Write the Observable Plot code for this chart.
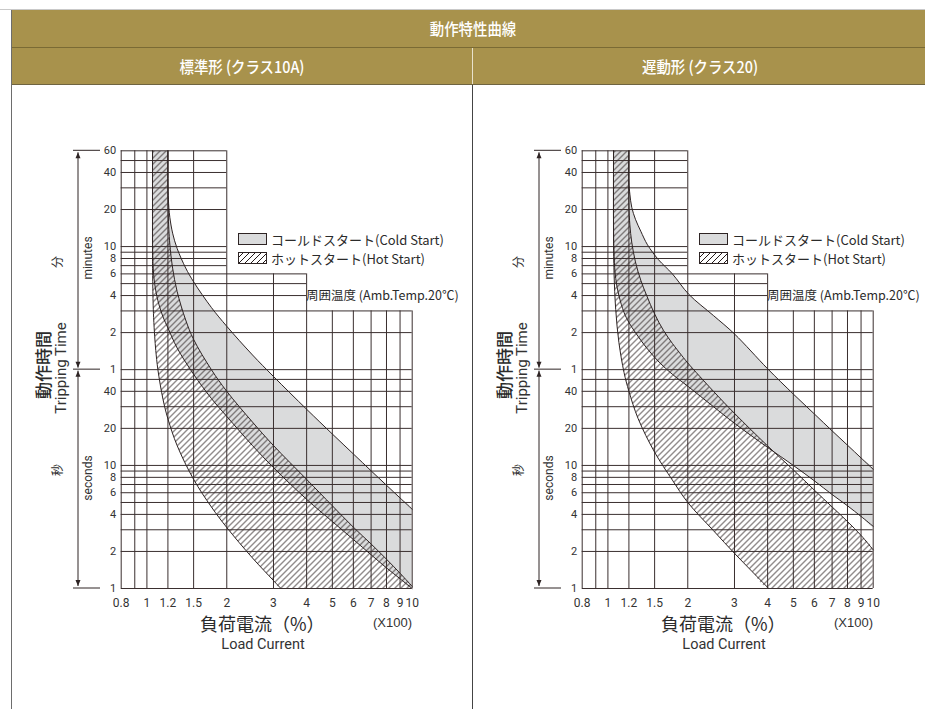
<!DOCTYPE html>
<html lang="ja"><head><meta charset="utf-8">
<script src="https://cdn.jsdelivr.net/npm/d3@7"></script>
<script src="https://cdn.jsdelivr.net/npm/@observablehq/plot@0.6"></script>
<style>
html,body{margin:0;padding:0;background:#fff;}
#page{position:relative;width:925px;height:709px;overflow:hidden;background:#fff;color:#2b2b2b;font-family:"Noto Sans CJK JP","Noto Sans",sans-serif;}
.t{position:absolute;white-space:nowrap;line-height:1;}
.box{position:absolute;}
</style></head>
<body><div id="page"></div>
<script>
// ---------------- data ----------------
const headerTitle = "動作特性曲線";
const panelTitles = ["標準形 (クラス10A)", "遅動形 (クラス20)"];
const legendCold = "コールドスタート(Cold Start)";
const legendHot = "ホットスタート(Hot Start)";
const ambientText = "周囲温度 (Amb.Temp.20℃)";
const xTitleJP = "負荷電流（%）";
const xTitleEN = "Load Current";
const xMultiplier = "(X100)";
const yTitleJP = "動作時間";
const yTitleEN = "Tripping Time";
const minutesJP = "分", minutesEN = "minutes";
const secondsJP = "秒", secondsEN = "seconds";

const X_DOMAIN = [0.8, 10];          // load current (x100 %)
const T_DOMAIN = [1, 3600];          // tripping time in seconds
const xTicks = [0.8, 1, 1.2, 1.5, 2, 3, 4, 5, 6, 7, 8, 9, 10];
const yTicks = [1, 2, 4, 6, 8, 10, 20, 40, 60, 120, 240, 360, 480, 600, 1200, 2400, 3600];
const yTickLabels = ["1","2","4","6","8","10","20","40","1","2","4","6","8","10","20","40","60"];

// grid (staircase-shaped chart paper)
const gridXFull = [0.8, 0.9, 1, 1.2, 1.5, 2];   // verticals up to 60 min
const gridXMid = [3, 4];                        // verticals up to 6 min
const gridXLow = [5, 6, 7, 8, 9, 10];           // verticals up to 3 min
const gridXMidTop = 360, gridXLowTop = 180;
const gridTTop = [3600, 3000, 2400, 1800, 1200, 600, 540, 480, 420]; // to x=2
const gridTMid = [360, 300, 240];                                   // to x=4
const gridTLow = [180, 120, 60, 50, 40, 30, 20, 10, 9, 8, 7, 6, 5, 4, 3, 2, 1]; // to x=10
const gridTTopRight = 2, gridTMidRight = 4;

// class 10A curves [current multiple, seconds]
const hotLowerL = [[1.05,3600],[1.05,420],[1.051,350],[1.055,214],[1.06,159],[1.07,111],[1.08,86],[1.1,60],[1.15,34.4],[1.2,23.9],[1.3,14.5],[1.5,7.7],[1.75,4.6],[2,3.13],[2.5,1.77],[3,1.16],[3.2,1]];
const coldLowerL = [[1.05,3600],[1.05,900],[1.051,564],[1.055,420],[1.06,358],[1.07,297],[1.1,218],[1.15,161],[1.2,131],[1.3,90],[1.5,55],[1.75,35],[2,25],[2.5,14.5],[3,9.6],[4,5.3],[5,3.5],[6,2.5],[7,1.88],[8,1.47],[9,1.2],[10,1]];
const hotUpperL = [[1.2,3600],[1.2,1800],[1.201,1500],[1.205,1022],[1.21,821],[1.22,629],[1.25,401],[1.3,259],[1.4,152],[1.5,105.5],[1.75,60],[2,40],[2.5,22.5],[3,14.5],[4,7.7],[5,4.7],[6,3.15],[7,2.3],[8,1.73],[9,1.33],[10,1.04]];
const coldUpperL = [[1.2,3600],[1.2,2000],[1.205,1453],[1.21,1244],[1.22,1038],[1.25,771],[1.3,579],[1.4,402],[1.5,310],[1.75,192],[2,135],[2.5,79],[3,52.8],[4,28.6],[5,18],[6,12.4],[7,9.04],[8,6.9],[9,5.44],[10,4.4]];

// class 20 curves
const hotLowerR = [[1.05,3600],[1.05,700],[1.051,587],[1.055,356],[1.07,185],[1.1,100],[1.15,57],[1.2,40],[1.3,24],[1.5,12.8],[1.75,7.6],[2,5],[2.5,2.95],[3,1.93],[3.5,1.37],[4.04,1]];
const coldLowerR = [[1.05,3600],[1.05,900],[1.055,500],[1.07,330],[1.1,240],[1.15,175],[1.2,145],[1.27,120],[1.4,90],[1.56,69],[1.75,55],[2,44],[2.5,30],[3,22],[4,14],[5,10],[6,7.5],[7,5.8],[8,4.7],[9,3.85],[10,3.2]];
const hotUpperR = [[1.2,3600],[1.2,1300],[1.21,900],[1.23,650],[1.27,450],[1.33,320],[1.4,240],[1.5,170],[1.62,125],[1.75,98],[1.9,78],[2,68],[2.5,40],[3,26.5],[4,14.4],[5,9.2],[6,6.3],[7,4.6],[8,3.5],[9,2.7],[10,2.06]];
const coldUpperR = [[1.2,3600],[1.2,2000],[1.21,1600],[1.23,1250],[1.27,1000],[1.33,800],[1.41,620],[1.55,470],[1.75,360],[2.02,245],[2.5,165],[3,117],[4,61],[5,38],[6,26.2],[7,19.1],[8,14.6],[9,11.5],[10,9.3]];

// ---------------- style ----------------
const INK = "#2e2424";
const GRID = "#3a2f2f";
const GREY = "#dadbdc";
const BAND = "#a8924c";
const NARROW = '"Liberation Sans Narrow","Arial Narrow",Roboto,sans-serif';
const JP = '"Noto Sans CJK JP",sans-serif';
const NS = "http://www.w3.org/2000/svg";

const page = document.getElementById("page");

function div(cls, css, text) {
  const d = document.createElement("div");
  d.className = cls;
  Object.assign(d.style, css);
  if (text != null) d.textContent = text;
  page.appendChild(d);
  return d;
}
function textAt(txt, cx, cy, css = {}, rotate = false, anchor = "middle") {
  const tx = anchor === "start" ? "0" : "-50%";
  const tf = `translate(${tx},-50%)` + (rotate ? " rotate(-90deg)" : "") + (css.sx ? ` scaleX(${css.sx})` : "");
  const c = Object.assign({left: cx + "px", top: cy + "px", transform: tf}, css);
  delete c.sx;
  return div("t", c, txt);
}
function el(name, attrs) {
  const e = document.createElementNS(NS, name);
  for (const k in attrs) e.setAttribute(k, attrs[k]);
  return e;
}

// ---------------- header ----------------
div("box", {left: "0px", top: "9px", width: "925px", height: "1px", background: "#c9c9c9"});
div("box", {left: "11px", top: "10px", width: "914px", height: "37px", background: BAND});
div("box", {left: "11px", top: "47px", width: "914px", height: "1px", background: "#7a6a34"});
div("box", {left: "11px", top: "48px", width: "914px", height: "36px", background: BAND});
div("box", {left: "11px", top: "84px", width: "914px", height: "1px", background: "#6f6440"});
div("box", {left: "472px", top: "48px", width: "1px", height: "36px", background: "#e9e2cc"});
div("box", {left: "11px", top: "10px", width: "1px", height: "699px", background: "#6d6d6d"});
div("box", {left: "472px", top: "85px", width: "1px", height: "624px", background: "#444"});
const hdrCss = {color: "#fff", fontFamily: JP, fontWeight: "500", fontSize: "16px", sx: 0.9};
textAt(headerTitle, 473, 28, Object.assign({}, hdrCss));
textAt(panelTitles[0], 241.5, 66, Object.assign({}, hdrCss));
textAt(panelTitles[1], 700, 66, Object.assign({}, hdrCss));

// ---------------- panels ----------------
function panel(idx, offset, hotLower, coldLower, hotUpper, coldUpper) {
  const hotRegion = [...hotLower, [X_DOMAIN[1], T_DOMAIN[0]], ...hotUpper.slice().reverse()];
  const coldRegion = [...coldLower, ...coldUpper.slice().reverse()];
  const hatchId = "hatch" + idx;
  const px = d => d[0], py = d => d[1];
  const curve = "catmull-rom";
  const gridOpt = {stroke: GRID, strokeWidth: 1};
  const chart = Plot.plot({
    width: 472, height: 560,
    marginLeft: 120.7, marginRight: 60.3, marginTop: 50.3, marginBottom: 72,
    x: {type: "log", domain: X_DOMAIN, axis: null},
    y: {type: "log", domain: T_DOMAIN, axis: null},
    style: {background: "transparent", overflow: "visible"},
    marks: [
      Plot.line(coldRegion, {x: px, y: py, fill: GREY, stroke: "none", curve, clip: true}),
      Plot.line(hotRegion, {x: px, y: py, fill: `url(#${hatchId})`, stroke: "none", curve, clip: true}),
      Plot.ruleX(gridXFull, {x: d => d, y1: T_DOMAIN[0], y2: T_DOMAIN[1], ...gridOpt}),
      Plot.ruleX(gridXMid, {x: d => d, y1: T_DOMAIN[0], y2: gridXMidTop, ...gridOpt}),
      Plot.ruleX(gridXLow, {x: d => d, y1: T_DOMAIN[0], y2: gridXLowTop, ...gridOpt}),
      Plot.ruleY(gridTTop, {y: d => d, x1: X_DOMAIN[0], x2: gridTTopRight, ...gridOpt}),
      Plot.ruleY(gridTMid, {y: d => d, x1: X_DOMAIN[0], x2: gridTMidRight, ...gridOpt}),
      Plot.ruleY(gridTLow, {y: d => d, x1: X_DOMAIN[0], x2: X_DOMAIN[1], ...gridOpt}),
      ...[hotLower, coldLower, hotUpper, coldUpper].map(c =>
        Plot.line(c, {x: px, y: py, stroke: INK, strokeWidth: 1, curve})),
      Plot.text(xTicks, {x: d => d, y: T_DOMAIN[0], dy: 15, text: d => String(d),
        fontSize: 12, fontFamily: NARROW, fill: "#333"}),
      Plot.text(yTicks, {x: X_DOMAIN[0], y: d => d, dx: -5, textAnchor: "end",
        text: (d, i) => yTickLabels[i], fontSize: 11, fontFamily: NARROW, fill: "#333"})
    ]
  });
  const holder = div("box", {left: offset + "px", top: "100px", width: "472px", height: "560px"});
  holder.appendChild(chart);
  const svg = chart.tagName.toLowerCase() === "svg" ? chart : chart.querySelector("svg");

  // hatch pattern
  const defs = el("defs", {});
  const pat = el("pattern", {id: hatchId, patternUnits: "userSpaceOnUse", width: 6, height: 6});
  pat.appendChild(el("path", {d: "M-1.5,1.5 L1.5,-1.5 M0,6 L6,0 M4.5,7.5 L7.5,4.5", stroke: "#241a1a", "stroke-width": 1, fill: "none"}));
  defs.appendChild(pat);
  svg.insertBefore(defs, svg.firstChild);

  // side axis with arrows
  const sy = v => chart.scale("y").apply(v);
  const g = el("g", {});
  const ax = 78;
  const yt = sy(T_DOMAIN[1]), ym = sy(60), yb = sy(T_DOMAIN[0]);
  for (const v of [yt, ym, yb]) g.appendChild(el("line", {x1: 73, x2: 100, y1: v, y2: v, stroke: INK, "stroke-width": 1}));
  for (const [a, b] of [[yt + 2, ym - 1.5], [ym + 1.5, yb - 2]]) {
    g.appendChild(el("line", {x1: ax, x2: ax, y1: a, y2: b, stroke: INK, "stroke-width": 1}));
    g.appendChild(el("path", {d: `M${ax},${a} L${ax - 2.5},${a + 6} L${ax + 2.5},${a + 6} Z`, fill: INK}));
    g.appendChild(el("path", {d: `M${ax},${b} L${ax - 2.5},${b - 6} L${ax + 2.5},${b - 6} Z`, fill: INK}));
  }
  svg.appendChild(g);

  // legend swatches
  const lg = el("g", {});
  lg.appendChild(el("rect", {x: 238.5, y: 133.5, width: 28, height: 11, fill: GREY, stroke: INK, "stroke-width": 1}));
  lg.appendChild(el("rect", {x: 238.5, y: 152.5, width: 28, height: 11, fill: `url(#${hatchId})`, stroke: INK, "stroke-width": 1}));
  svg.appendChild(lg);

  // texts (HTML)
  const o = offset;
  const small = {fontFamily: JP, fontSize: "13px", color: "#2b2b2b"};
  textAt(legendCold, o + 271, 239, Object.assign({}, small), false, "start");
  textAt(legendHot, o + 271, 258, Object.assign({}, small), false, "start");
  textAt(ambientText, o + 306, 295, Object.assign({}, small, {fontSize: "12.5px"}), false, "start");
  textAt(xTitleJP, o + 200, 623, {fontFamily: JP, fontSize: "18px", color: "#2b2b2b"}, false, "start");
  textAt(xMultiplier, o + 373, 622, {fontFamily: "Liberation Sans,Arial,sans-serif", fontSize: "13px", color: "#333"}, false, "start");
  textAt(xTitleEN, o + 263, 645, {fontFamily: NARROW, fontSize: "14.5px", color: "#333"});
  textAt(yTitleJP, o + 42, 365, {fontFamily: JP, fontSize: "17px", fontWeight: "500", color: "#2b2b2b"}, true);
  textAt(yTitleEN, o + 61, 368, {fontFamily: NARROW, fontSize: "15px", color: "#333"}, true);
  textAt(minutesJP, o + 57, 262, {fontFamily: JP, fontSize: "12px", color: "#2b2b2b"}, true);
  textAt(minutesEN, o + 88, 258, {fontFamily: NARROW, fontSize: "12px", color: "#333"}, true);
  textAt(secondsJP, o + 57, 470, {fontFamily: JP, fontSize: "12px", color: "#2b2b2b"}, true);
  textAt(secondsEN, o + 88, 478, {fontFamily: NARROW, fontSize: "12px", color: "#333"}, true);
}

panel(0, 0, hotLowerL, coldLowerL, hotUpperL, coldUpperL);
panel(1, 461, hotLowerR, coldLowerR, hotUpperR, coldUpperR);
</script></body></html>
